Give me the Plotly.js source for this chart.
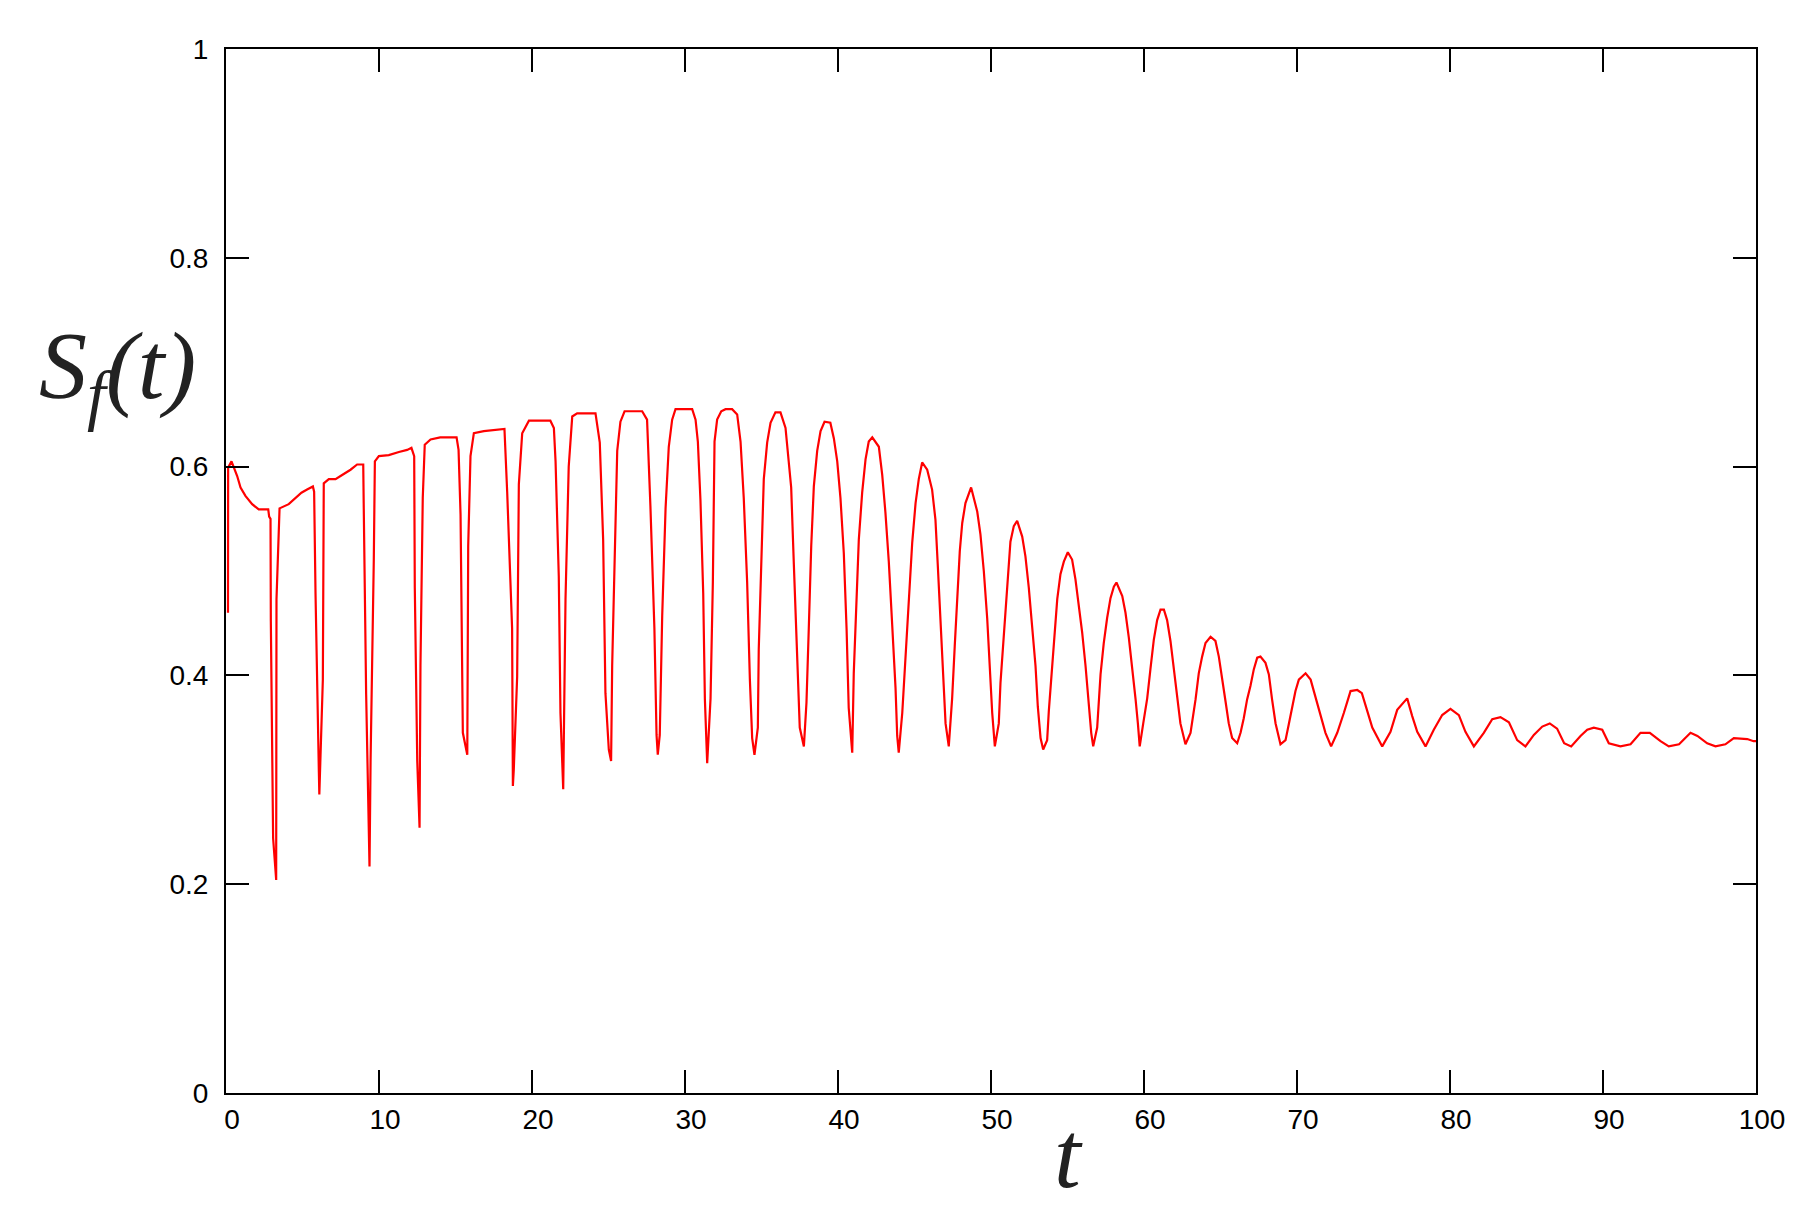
<!DOCTYPE html>
<html>
<head>
<meta charset="utf-8">
<script src="https://cdn.plot.ly/plotly-3.0.1.min.js"></script>
<style>
  body { margin: 0; background: #fff; }
  #chart { width: 1820px; height: 1220px; }
</style>
</head>
<body>
<div id="chart"></div>
<script>
// time values
var tVals = [
  0.13, 0.14, 0.36, 0.73, 0.95, 1.27, 1.71, 2.14, 2.76, 2.82, 2.91, 2.93, 3.08, 3.28, 3.30, 3.45, 3.50,
  4.10, 4.54, 4.93, 5.30, 5.68, 5.76, 5.85, 6.07, 6.10, 6.33, 6.39, 6.72, 7.16, 7.59, 8.14, 8.57, 8.97,
  9.00, 9.16, 9.38, 9.45, 9.66, 9.73, 9.99, 10.64, 11.30, 11.84, 12.12, 12.30, 12.34, 12.50, 12.65, 12.71,
  12.86, 12.99, 13.37, 14.00, 15.07, 15.20, 15.33, 15.48, 15.77, 15.83, 15.98, 16.20, 16.85, 18.20, 18.38,
  18.70, 18.75, 18.81, 19.03, 19.14, 19.36, 19.80, 21.20, 21.43, 21.54, 21.75, 21.86, 22.04, 22.19, 22.40,
  22.63, 22.95, 24.15, 24.43, 24.65, 24.80, 25.02, 25.17, 25.24, 25.46, 25.57, 25.78, 26.05, 27.20, 27.52,
  27.74, 28.00, 28.14, 28.22, 28.35, 28.51, 28.73, 28.94, 29.16, 29.38, 30.47, 30.69, 30.84, 31.01, 31.19,
  31.30, 31.45, 31.67, 31.82, 31.93, 32.10, 32.37, 32.65, 33.08, 33.41, 33.63, 33.84, 34.06, 34.24, 34.39,
  34.54, 34.76, 34.82, 35.00, 35.15, 35.37, 35.59, 35.91, 36.24, 36.57, 36.72, 36.94, 37.11, 37.33, 37.50,
  37.77, 37.94, 38.09, 38.25, 38.42, 38.64, 38.86, 39.12, 39.50, 39.73, 39.95, 40.16, 40.38, 40.56, 40.70,
  40.93, 41.03, 41.21, 41.36, 41.58, 41.80, 42.01, 42.24, 42.67, 42.89, 43.10, 43.32, 43.54, 43.76, 43.87,
  43.97, 44.20, 44.41, 44.63, 44.85, 45.07, 45.28, 45.50, 45.83, 46.15, 46.37, 46.52, 46.70, 46.88, 47.03,
  47.24, 47.46, 47.63, 47.79, 47.96, 48.12, 48.33, 48.70, 49.10, 49.31, 49.53, 49.75, 49.92, 50.08, 50.25,
  50.51, 50.62, 50.84, 51.01, 51.16, 51.27, 51.49, 51.71, 52.04, 52.25, 52.47, 52.69, 52.91, 53.06, 53.24,
  53.41, 53.67, 53.78, 54.00, 54.15, 54.33, 54.54, 54.76, 55.02, 55.30, 55.52, 55.74, 55.96, 56.18, 56.40,
  56.55, 56.68, 56.94, 57.16, 57.37, 57.59, 57.81, 58.03, 58.20, 58.58, 58.79, 59.01, 59.23, 59.45, 59.60,
  59.72, 59.95, 60.21, 60.42, 60.64, 60.86, 61.08, 61.30, 61.51, 61.73, 61.95, 62.17, 62.38, 62.71, 63.04,
  63.37, 63.58, 63.80, 64.02, 64.35, 64.67, 64.89, 65.11, 65.33, 65.54, 65.76, 66.09, 66.31, 66.52, 66.74,
  66.96, 67.18, 67.40, 67.61, 67.94, 68.16, 68.37, 68.60, 68.92, 69.25, 69.46, 69.68, 69.90, 70.12, 70.56,
  70.89, 71.20, 71.53, 71.86, 72.23, 72.63, 73.06, 73.50, 73.94, 74.24, 74.59, 74.92, 75.57, 76.11, 76.55,
  77.20, 77.53, 77.86, 78.40, 78.94, 79.49, 80.03, 80.58, 81.01, 81.56, 82.21, 82.76, 83.30, 83.85, 84.39,
  84.93, 85.48, 86.03, 86.52, 87.00, 87.46, 87.92, 88.53, 88.97, 89.40, 89.95, 90.38, 91.14, 91.80, 92.45,
  93.06, 93.76, 94.30, 94.97, 95.72, 96.17, 96.81, 97.35, 98.00, 98.55, 99.43, 99.84, 100.00
];

// S_f(t) values
var sVals = [
  0.460, 0.599, 0.605, 0.591, 0.580, 0.572, 0.564, 0.559, 0.559, 0.552, 0.550, 0.452, 0.244, 0.204, 0.473, 0.559, 0.560,
  0.564, 0.570, 0.575, 0.578, 0.581, 0.576, 0.479, 0.307, 0.286, 0.396, 0.584, 0.588, 0.588, 0.592, 0.597, 0.602, 0.602,
  0.565, 0.382, 0.217, 0.319, 0.511, 0.605, 0.610, 0.611, 0.614, 0.616, 0.618, 0.610, 0.484, 0.318, 0.254, 0.409,
  0.570, 0.621, 0.626, 0.628, 0.628, 0.616, 0.554, 0.345, 0.324, 0.524, 0.610, 0.632, 0.634, 0.636, 0.575,
  0.445, 0.294, 0.310, 0.399, 0.583, 0.632, 0.644, 0.644, 0.637, 0.605, 0.495, 0.364, 0.291, 0.473, 0.600,
  0.648, 0.651, 0.651, 0.623, 0.530, 0.383, 0.329, 0.318, 0.409, 0.530, 0.615, 0.643, 0.653, 0.653, 0.645,
  0.562, 0.445, 0.343, 0.324, 0.343, 0.457, 0.560, 0.619, 0.645, 0.655, 0.655, 0.645, 0.624, 0.568, 0.479,
  0.377, 0.316, 0.378, 0.489, 0.624, 0.645, 0.653, 0.655, 0.655, 0.650, 0.624, 0.570, 0.490, 0.396, 0.340,
  0.324, 0.350, 0.425, 0.519, 0.588, 0.623, 0.642, 0.652, 0.652, 0.637, 0.616, 0.580, 0.508, 0.420, 0.350,
  0.332, 0.374, 0.445, 0.524, 0.581, 0.615, 0.634, 0.643, 0.642, 0.627, 0.605, 0.570, 0.517, 0.445, 0.369,
  0.326, 0.402, 0.471, 0.530, 0.575, 0.607, 0.624, 0.628, 0.619, 0.592, 0.556, 0.509, 0.449, 0.388, 0.342,
  0.326, 0.364, 0.417, 0.476, 0.527, 0.565, 0.588, 0.604, 0.597, 0.578, 0.549, 0.506, 0.452, 0.398, 0.354,
  0.332, 0.378, 0.428, 0.479, 0.519, 0.546, 0.565, 0.580, 0.557, 0.535, 0.500, 0.455, 0.406, 0.364, 0.332,
  0.354, 0.393, 0.436, 0.476, 0.508, 0.528, 0.543, 0.548, 0.533, 0.514, 0.484, 0.449, 0.409, 0.370, 0.340,
  0.329, 0.338, 0.366, 0.406, 0.442, 0.473, 0.497, 0.509, 0.518, 0.511, 0.492, 0.469, 0.441, 0.409, 0.372,
  0.345, 0.332, 0.350, 0.401, 0.431, 0.455, 0.474, 0.485, 0.489, 0.476, 0.460, 0.436, 0.409, 0.377, 0.354,
  0.332, 0.354, 0.378, 0.406, 0.434, 0.453, 0.463, 0.463, 0.453, 0.433, 0.406, 0.377, 0.354, 0.334, 0.345,
  0.377, 0.402, 0.418, 0.431, 0.437, 0.433, 0.418, 0.398, 0.375, 0.354, 0.340, 0.335, 0.345, 0.359, 0.377,
  0.390, 0.406, 0.417, 0.418, 0.412, 0.401, 0.377, 0.354, 0.334, 0.338, 0.353, 0.369, 0.385, 0.396, 0.402,
  0.396, 0.380, 0.361, 0.345, 0.332, 0.345, 0.364, 0.385, 0.386, 0.383, 0.366, 0.350, 0.332, 0.346, 0.367,
  0.378, 0.361, 0.346, 0.332, 0.348, 0.362, 0.368, 0.362, 0.346, 0.332, 0.345, 0.358, 0.360, 0.355, 0.338,
  0.332, 0.343, 0.351, 0.354, 0.349, 0.335, 0.332, 0.342, 0.348, 0.350, 0.348, 0.335, 0.332, 0.334, 0.345,
  0.345, 0.337, 0.332, 0.334, 0.345, 0.342, 0.335, 0.332, 0.334, 0.340, 0.339, 0.337, 0.337
];

var xTicks = [0, 10, 20, 30, 40, 50, 60, 70, 80, 90, 100];
var yTicks = [0, 0.2, 0.4, 0.6, 0.8, 1];
var yTickText = ['0', '0.2', '0.4', '0.6', '0.8', '1'];

var tickFont = {family: 'Liberation Sans, Arial, sans-serif', size: 28, color: '#000'};
var titleFont = {family: 'Liberation Serif, Times New Roman, serif', size: 96, color: '#222', style: 'italic'};

var axisCommon = {
  showline: true, linecolor: '#000', linewidth: 2, mirror: 'ticks',
  ticks: 'inside', ticklen: 23, tickwidth: 2, tickcolor: '#000',
  showgrid: false, zeroline: false, tickfont: tickFont
};

Plotly.newPlot('chart', [{
  x: tVals,
  y: sVals,
  type: 'scatter',
  mode: 'lines',
  line: {color: '#ff0000', width: 2.2},
  hoverinfo: 'skip'
}], {
  width: 1820,
  height: 1220,
  margin: {l: 226, r: 64, t: 49, b: 127},
  paper_bgcolor: '#fff',
  plot_bgcolor: '#fff',
  showlegend: false,
  xaxis: Object.assign({}, axisCommon, {
    range: [0, 100], tickvals: xTicks, ticklabelshift: 6, ticklabelstandoff: 0
  }),
  yaxis: Object.assign({}, axisCommon, {
    range: [0, 1], tickvals: yTicks, ticktext: yTickText, ticklabelstandoff: 10
  }),
  annotations: [
    {
      text: 'S<sub>f</sub>(t)', xref: 'paper', yref: 'paper',
      x: -0.071, y: 0.69, xanchor: 'center', yanchor: 'middle',
      showarrow: false, font: titleFont
    },
    {
      text: 't', xref: 'paper', yref: 'paper',
      x: 0.5506, y: -0.059, xanchor: 'center', yanchor: 'middle',
      showarrow: false, font: titleFont
    }
  ]
}, {staticPlot: true});
</script>
</body>
</html>
